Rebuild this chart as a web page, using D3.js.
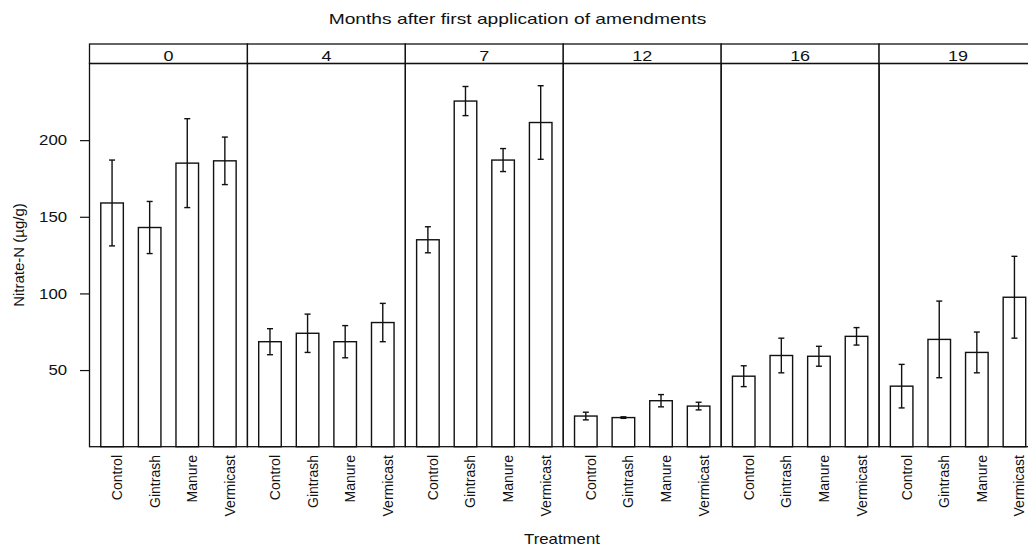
<!DOCTYPE html>
<html>
<head>
<meta charset="utf-8">
<script src="https://cdn.jsdelivr.net/npm/d3@7"></script>
<style>
  body { margin: 0; background: #fff; }
  svg { display: block; font-family: "Liberation Sans", Arial, Helvetica, sans-serif; }
</style>
</head>
<body>
<svg id="chart" width="1028" height="550"></svg>
<script>
// months after first application (one panel each)
var months = ["0", "4", "7", "12", "16", "19"];
var treatments = ["Control", "Gintrash", "Manure", "Vermicast"];
// mean nitrate-N (ug/g), one row per panel
var means = [
  [159, 143, 185, 186.5],
  [68.5, 74, 68.5, 81],
  [135, 225.5, 187, 211.5],
  [20, 19, 30, 26.5],
  [46, 59.5, 59, 72],
  [39.5, 70, 61.5, 97.5]
];
// error bar half-widths
var errs = [
  [28, 17, 29, 15.5],
  [8.5, 12.5, 10.5, 12.5],
  [8.5, 9.5, 7.5, 24],
  [2.5, 0.5, 4, 2.5],
  [6.8, 11.3, 6.5, 5.7],
  [14.2, 25, 13.3, 26.7]
];
var yTicks = [50, 100, 150, 200];

var svg = d3.select("#chart");
var plotTop = 63.5, plotBottom = 446.7, stripTop = 44;

var panelScale = d3.scaleBand().domain(months).range([89.5, 1037]).padding(0);
var pw = panelScale.bandwidth();
var x = d3.scaleLinear().domain([0.4, 4.6]).range([0, pw]);
var y = d3.scaleLinear().domain([0, 250]).range([plotBottom, plotTop]);
var barW = x(1.6) - x(1);

// rows of bars
var rows = [];
months.forEach(function(m, i) {
  treatments.forEach(function(t, j) {
    rows.push({month: m, treat: t, k: j + 1, mean: means[i][j], err: errs[i][j]});
  });
});

var panels = svg.selectAll(".panel")
  .data(months)
  .enter().append("g")
  .attr("class", "panel")
  .attr("transform", function(d) { return "translate(" + panelScale(d) + ",0)"; });

// strips
panels.append("rect")
  .attr("x", 0).attr("y", stripTop)
  .attr("width", pw).attr("height", plotTop - stripTop)
  .attr("fill", "#fff").attr("stroke", "#111").attr("stroke-width", 1.3);

panels.append("text")
  .attr("transform", "translate(" + (pw / 2) + "," + (plotTop - 2.5) + ") scale(1.2,1)")
  .attr("text-anchor", "middle")
  .attr("font-size", 15)
  .attr("fill", "#111")
  .text(function(d) { return d; });

// bars
panels.each(function(m) {
  var g = d3.select(this);
  var dat = rows.filter(function(r) { return r.month == m; });

  g.selectAll(".bar").data(dat).enter().append("rect")
    .attr("class", "bar")
    .attr("x", function(d) { return x(d.k) - barW / 2; })
    .attr("y", function(d) { return y(d.mean); })
    .attr("width", barW)
    .attr("height", function(d) { return y(0) - y(d.mean); })
    .attr("fill", "#fff").attr("stroke", "#111").attr("stroke-width", 1.4);

  var eb = g.selectAll(".err").data(dat).enter().append("g").attr("class", "err")
    .attr("stroke", "#111").attr("stroke-width", 1.4);
  eb.append("line")
    .attr("x1", function(d) { return x(d.k); }).attr("x2", function(d) { return x(d.k); })
    .attr("y1", function(d) { return y(d.mean + d.err); })
    .attr("y2", function(d) { return y(d.mean - d.err); });
  [1, -1].forEach(function(s) {
    eb.append("line")
      .attr("x1", function(d) { return x(d.k) - 3; }).attr("x2", function(d) { return x(d.k) + 3; })
      .attr("y1", function(d) { return y(d.mean + s * d.err); })
      .attr("y2", function(d) { return y(d.mean + s * d.err); });
  });

  // treatment labels, rotated
  g.selectAll(".xlab").data(dat).enter().append("text")
    .attr("class", "xlab")
    .attr("transform", function(d) { return "translate(" + (x(d.k) + 10) + ",455) rotate(-90)"; })
    .attr("text-anchor", "end")
    .attr("font-size", 14)
    .attr("fill", "#111")
    .text(function(d) { return d.treat; });
});

// panel frames
panels.append("rect")
  .attr("x", 0).attr("y", plotTop)
  .attr("width", pw).attr("height", plotBottom - plotTop)
  .attr("fill", "none").attr("stroke", "#111").attr("stroke-width", 1.3);

// y axis on first panel
var yAxis = svg.append("g")
  .attr("transform", "translate(89.5,0)")
  .call(d3.axisLeft(y).tickValues(yTicks).tickSize(9.5).tickPadding(13));
yAxis.select(".domain").remove();
yAxis.selectAll("line").attr("stroke", "#111").attr("stroke-width", 1.2);
yAxis.selectAll("text")
  .attr("font-size", 15)
  .attr("font-family", "Liberation Sans, Arial, sans-serif")
  .attr("fill", "#111")
  .attr("x", -20)
  .attr("transform", "scale(1.12,1)");

// titles
svg.append("text")
  .attr("transform", "translate(517.5,24) scale(1.28,1)")
  .attr("text-anchor", "middle")
  .attr("font-size", 15)
  .attr("fill", "#111")
  .text("Months after first application of amendments");

svg.append("text")
  .attr("transform", "translate(562,544) scale(1.2,1)")
  .attr("text-anchor", "middle")
  .attr("font-size", 14)
  .attr("fill", "#111")
  .text("Treatment");

svg.append("text")
  .attr("transform", "translate(24,255) rotate(-90)")
  .attr("text-anchor", "middle")
  .attr("font-size", 15)
  .attr("fill", "#111")
  .text("Nitrate-N (µg/g)");
</script>
</body>
</html>
